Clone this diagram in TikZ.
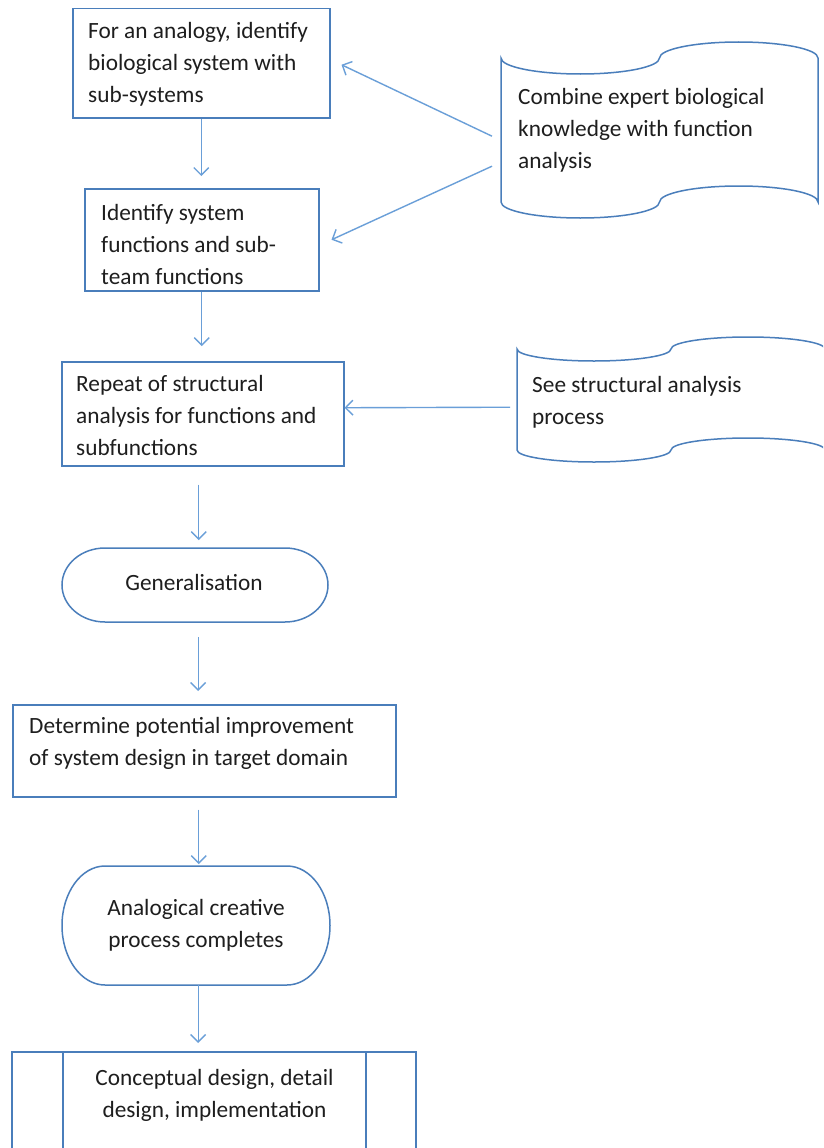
\documentclass[tikz,border=0pt]{standalone}
\usepackage{fontspec}
\setmainfont{Carlito}
\usetikzlibrary{arrows.meta,calc}

\definecolor{edgeblue}{HTML}{4A7EBB}
\definecolor{arrowblue}{HTML}{6A9FD8}
\definecolor{inkgray}{HTML}{1E1E1E}

\begin{document}
\begin{tikzpicture}[x=1pt,y=-1pt,
  box/.style={draw=edgeblue, line width=1.5pt, rectangle, anchor=north west, inner sep=0pt},
  area/.style={rectangle, anchor=north west, inner sep=0pt},
  outline/.style={draw=edgeblue, line width=1.5pt},
  txt/.style={anchor=base west, align=left, inner sep=0pt, text=inkgray,
    font=\fontsize{23.3}{31.7}\selectfont},
  ctxt/.style={txt, anchor=base, align=center},
  flow/.style={draw=arrowblue, line width=1.4pt, -{Straight Barb[length=7.5pt,width=15pt]}},
]
\useasboundingbox (0,0) rectangle (823,1148);
\clip (0,0) rectangle (823,1148);
\fill[white] (0,0) rectangle (823,1148);

% process boxes
\node[box, minimum width=257pt, minimum height=109pt] (A) at (72,8) {};
\node[box, minimum width=234pt, minimum height=102pt] (B) at (84,188) {};
\node[box, minimum width=282pt, minimum height=104pt] (C) at (61,361) {};
\node[box, minimum width=383pt, minimum height=92pt] (D) at (12,704) {};

% terminators
\node[area, minimum width=266pt, minimum height=74pt] (G) at (62,548) {};
\draw[outline] (105,548) -- (285,548)
  arc[start angle=270, end angle=450, x radius=43, y radius=37]
  -- (105,622)
  arc[start angle=90, end angle=270, x radius=43, y radius=37] -- cycle;
\node[area, minimum width=268pt, minimum height=119pt] (T) at (62,866) {};
\draw[outline] (105,866) -- (287,866)
  arc[start angle=270, end angle=450, x radius=43, y radius=59.5]
  -- (105,985)
  arc[start angle=90, end angle=270, x radius=43, y radius=59.5] -- cycle;

% predefined process
\node[area, minimum width=404pt, minimum height=110pt] (P) at (12,1052) {};
\draw[outline] (12,1162) -- (12,1052) -- (416,1052) -- (416,1162);
\draw[outline] (63,1052) -- (63,1162);
\draw[outline] (366,1052) -- (366,1162);

% punched tape notes (trough on the left, crest on the right, top and bottom)
\node[area, minimum width=317pt, minimum height=176pt] (S1) at (501,42) {};
\draw[outline] (501,58)
  arc[start angle=180, end angle=0, x radius=79.25, y radius=16]
  arc[start angle=180, end angle=360, x radius=79.25, y radius=16]
  -- (818,202)
  arc[start angle=360, end angle=180, x radius=79.25, y radius=16]
  arc[start angle=0, end angle=180, x radius=79.25, y radius=16] -- cycle;
\node[area, minimum width=308pt, minimum height=125pt] (S2) at (517,337) {};
\draw[outline] (517,349)
  arc[start angle=180, end angle=0, x radius=77, y radius=12]
  arc[start angle=180, end angle=360, x radius=77, y radius=12]
  -- (825,450)
  arc[start angle=360, end angle=180, x radius=77, y radius=12]
  arc[start angle=0, end angle=180, x radius=77, y radius=12] -- cycle;

% texts (anchored at the baseline of their last line)
\node[txt] (tA) at (88,102) {For an analogy, identify\\biological system with\\sub-systems};
\node[txt] (tB) at (101,284) {Identify system\\functions and sub-\\team functions};
\node[txt] (tC) at (76,455) {Repeat of structural\\analysis for functions and\\subfunctions};
\node[ctxt] (tG) at (194,590) {Generalisation};
\node[txt] (tD) at (29,765) {Determine potential improvement\\of system design in target domain};
\node[ctxt] (tT) at (196,947) {Analogical creative\\process completes};
\node[ctxt] (tP) at (214.5,1117) {Conceptual design, detail\\design, implementation};
\node[txt] (tS1) at (518,168) {Combine expert biological\\knowledge with function\\analysis};
\node[txt] (tS2) at (532,424) {See structural analysis\\process};

% main flow
\draw[flow, shorten >=12pt] (A.south) -- (A.south |- B.north);
\draw[flow, shorten >=15pt] (B.south) -- (B.south |- C.north);
\draw[flow, shorten <=18pt, shorten >=8pt] ([xshift=-4pt]C.south) -- ([xshift=-4pt]C.south |- G.north);
\draw[flow, shorten <=15pt, shorten >=13pt] ([xshift=3pt]G.south) -- ([xshift=3pt]G.south |- D.north);
\draw[flow, shorten <=12pt, shorten >=2pt] ([xshift=-5.5pt]D.south) -- ([xshift=-5.5pt]D.south |- T.north);
\draw[flow, shorten >=9pt] ([xshift=2pt]T.south) -- ([xshift=2pt]T.south |- P.north);

% side notes feeding the flow
\draw[flow] ($(S1.west)+(-9,6)$) -- ($(A.east)+(11,1.5)$);
\draw[flow] ($(S1.west)+(-9,36)$) -- ($(B.east)+(12,0)$);
\draw[flow] ($(S2.west)+(-7,7.5)$) -- ($(C.east)+(0,-6)$);
\end{tikzpicture}
\end{document}
